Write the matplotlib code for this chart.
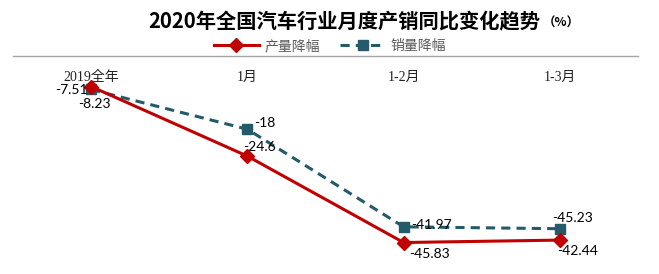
import numpy as np
import matplotlib.pyplot as plt

cats = ['2019全年', '1月', '1-2月', '1-3月']
prod = [-7.51, -24.6, -45.83, -45.23]    # 产量降幅
sales = [-8.23, -18, -41.97, -42.44]     # 销量降幅
prod_lbl = ['-7.51', '-24.6', '-45.83', '-45.23']
sales_lbl = ['-8.23', '-18', '-41.97', '-42.44']

red = '#C00000'
teal = '#235B6A'

fig = plt.figure(figsize=(6.59, 2.74), dpi=100)
ax = fig.add_axes([13/659, 1-259.5/274, 625/659, (259.5-56)/274])

x = np.arange(len(cats))
ax.plot(x, prod, color=red, lw=2.2, marker='D', ms=7, label='产量降幅', zorder=3)
ax.plot(x, sales, color=teal, lw=2.2, ls=(0, (3, 2)), marker='s', ms=6.5,
        label='销量降幅', zorder=2)

ax.set_xlim(-0.5, 3.5)
ax.set_ylim(-50, 0)
ax.set_yticks([])
ax.set_xticks(x)
ax.set_xticklabels(cats, family=['Liberation Serif', 'Noto Sans CJK SC'],
                   fontsize=10, color='#222222')
ax.tick_params(axis='x', top=True, labeltop=True, bottom=False, labelbottom=False,
               length=0, pad=-20)
for s in ['left', 'right', 'bottom']:
    ax.spines[s].set_visible(False)
ax.spines['top'].set_color('#a6a6a6')
ax.spines['top'].set_linewidth(1)

# data labels: (dx, dy) in pixels, alignment
p_off = [(-3, -3, 'right'), (-4, 9, 'left'), (5, -11, 'left'), (-8, 22, 'left')]
s_off = [(-13, -15, 'left'), (7, 6, 'left'), (7, 2, 'left'), (-3, -22, 'left')]
for i in range(len(cats)):
    dx, dy, ha = p_off[i]
    ax.annotate(prod_lbl[i], (x[i], prod[i]), xytext=(dx, dy), textcoords='offset pixels',
                ha=ha, va='center', fontsize=10, family='Lato', color='black', zorder=5)
    dx, dy, ha = s_off[i]
    ax.annotate(sales_lbl[i], (x[i], sales[i]), xytext=(dx, dy), textcoords='offset pixels',
                ha=ha, va='center', fontsize=10, family='Lato', color='black', zorder=5)

fig.text(148/659, 1-22/274, '2020年全国汽车行业月度产销同比变化趋势',
         fontsize=14.6, fontweight='bold', family=['Noto Sans CJK SC'],
         ha='left', va='center', color='black')
fig.text(543/659, 1-23/274, '（%）', fontsize=9, fontweight='bold',
         family=['Noto Sans CJK SC'], ha='left', va='center', color='black')

leg = fig.legend(loc='center', bbox_to_anchor=(330/659, 1-46/274), ncol=2, frameon=False,
                 prop={'family': 'Noto Sans CJK SC', 'size': 10}, handlelength=3.2,
                 columnspacing=1.5, handletextpad=0.4)
for t in leg.get_texts():
    t.set_color('#595959')

fig.savefig('out.png', dpi=100)
